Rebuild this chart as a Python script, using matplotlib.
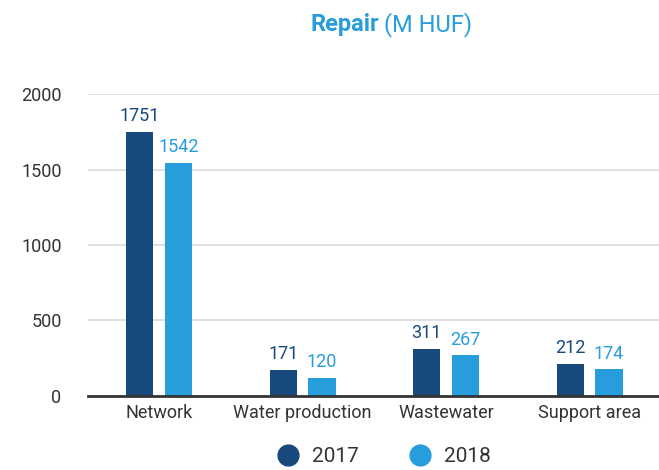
import matplotlib.pyplot as plt
import numpy as np

categories = ['Network', 'Water production', 'Wastewater', 'Support area']
values_2017 = [1751, 171, 311, 212]
values_2018 = [1542, 120, 267, 174]
years = ['2017', '2018']
yticks = [0, 500, 1000, 1500, 2000]

dark = '#17497c'
light = '#279ddc'
text_col = '#333333'

plt.rcParams['font.family'] = ['Roboto', 'DejaVu Sans']

fig = plt.figure(figsize=(6.59, 4.70), dpi=100)
ax = fig.add_axes([88 / 659, 1 - 395.7 / 470, 571 / 659, (395.7 - 94.3) / 470])

x = np.arange(len(categories))
w = 0.19
off = 0.135
b1 = ax.bar(x - off, values_2017, w, color=dark, zorder=3)
b2 = ax.bar(x + off, values_2018, w, color=light, zorder=3)

# value labels above bars
for bars, col in [(b1, dark), (b2, light)]:
    for r in bars:
        ax.annotate(f'{int(r.get_height())}', (r.get_x() + r.get_width() / 2, r.get_height()),
                    xytext=(0, 5), textcoords='offset points', ha='center', va='bottom',
                    fontsize=13, color=col)

ax.set_xlim(-0.495, 3.484)
ax.set_ylim(0, 2000)
ax.set_yticks(yticks)
ax.set_xticks(x)
ax.set_xticklabels(categories)
ax.tick_params(axis='both', length=0, labelsize=13, colors=text_col)
ax.tick_params(axis='y', pad=19)
ax.tick_params(axis='x', pad=6)
for s in ['top', 'right', 'left']:
    ax.spines[s].set_visible(False)
ax.spines['bottom'].set_color('#333333')
ax.spines['bottom'].set_linewidth(2)
ax.spines['bottom'].set_zorder(4)
ax.grid(axis='y', color='#dddddd', linewidth=1.3, zorder=0)

# title with bold first word
fig.text(0.576, 0.948, 'Repair', ha='right', va='center', fontsize=17,
         fontweight='bold', color=light)
fig.text(0.582, 0.948, '(M HUF)', ha='left', va='center', fontsize=17, color=light)

# legend
handles = [plt.Line2D([], [], marker='o', linestyle='', markersize=15, color=c) for c in (dark, light)]
fig.legend(handles, years, loc='center', bbox_to_anchor=(0.575, 0.028), ncol=2, frameon=False,
           fontsize=15, handletextpad=0.15, columnspacing=1.9, labelcolor=text_col,
           borderpad=0)

fig.savefig('out.png', dpi=100)
